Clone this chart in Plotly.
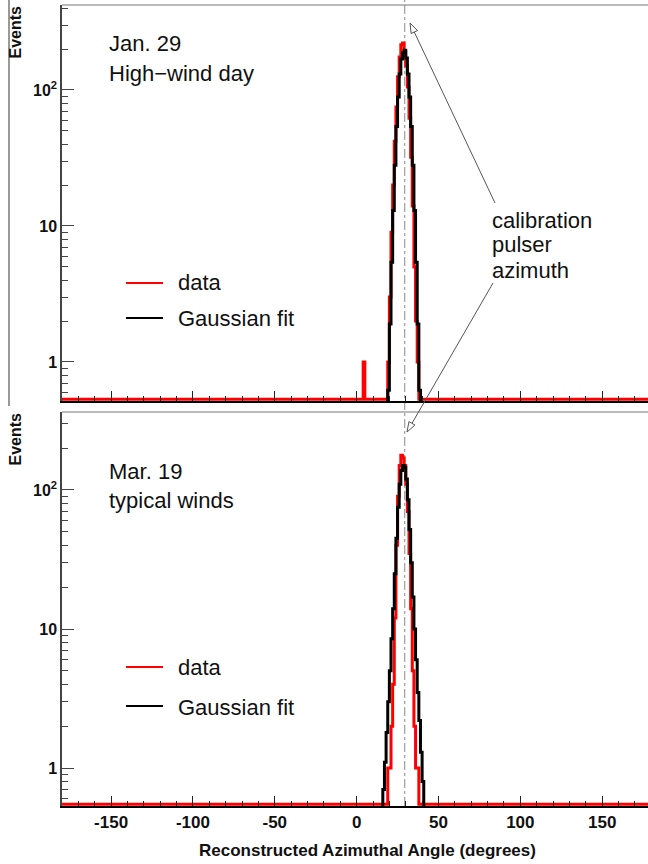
import math
import plotly.graph_objects as go
from plotly.subplots import make_subplots

# ---------------- data ----------------
pulser_azimuth = 29.4

# Top panel (Jan. 29, high-wind day): 1-degree bins, keyed by bin left edge
top_data_edges = [4, 18, 19, 20, 21, 22, 23, 24, 25, 26, 27, 28, 29, 30, 31, 32, 33, 34, 35, 36, 37, 38]
top_data_counts = [1, 0, 1, 3, 9, 20, 42, 75, 125, 175, 215, 222, 190, 150, 105, 62, 32, 14, 5, 2, 1, 0]

top_fit_edges = [18, 19, 20, 21, 22, 23, 24, 25, 26, 27, 28, 29, 30, 31, 32, 33, 34, 35, 36, 37, 38, 39]
top_fit_vals = [0.17, 0.62, 1.9, 5.4, 13, 28, 54, 89, 131, 169, 188, 196, 172, 131, 89, 54, 28, 13, 5.4, 1.9, 0.62, 0.17]

# Bottom panel (Mar. 19, typical winds)
bot_data_edges = [17, 18, 19, 20, 21, 22, 23, 24, 25, 26, 27, 28, 29, 30, 31, 32, 33, 34, 35, 36, 37, 38]
bot_data_counts = [0, 0, 1, 1, 2, 4, 12, 40, 90, 150, 178, 170, 150, 110, 70, 35, 14, 5, 2, 1, 1, 0]

bot_fit_edges = [15, 16, 17, 18, 19, 20, 21, 22, 23, 24, 25, 26, 27, 28, 29, 30, 31, 32, 33, 34, 35, 36, 37, 38, 39, 40, 41, 42]
bot_fit_vals = [0.4, 0.7, 1.1, 1.8, 3, 5, 8.5, 14, 25, 45, 75, 110, 138, 150, 146, 120, 85, 52, 30, 17, 10, 6, 3.5, 2.2, 1.3, 0.8, 0.5, 0.3]

x_ticks = [-150, -100, -50, 0, 50, 100, 150]
y_ticks = [1, 10, 100]
y_ticktext = ["<b>1</b>", "<b>10</b>", "<b>10<sup>2</sup></b>"]
y_minor = [0.6, 0.7, 0.8, 0.9, 2, 3, 4, 5, 6, 7, 8, 9, 20, 30, 40, 50, 60, 70, 80, 90, 200, 300, 400]

top_labels = ["Jan. 29", "High\u2212wind day"]
bot_labels = ["Mar. 19", "typical winds"]
legend_labels = ["data", "Gaussian fit"]
callout_lines = ["calibration", "pulser", "azimuth"]

# ---------------- geometry helpers ----------------
W, H = 648, 864
L, R, T, B = 62, 0, 5, 58
PW = W - L - R
PH = H - T - B
def px(x):
    return (x - L) / PW
def py(y):
    return (H - B - y) / PH

top_dom = [py(401), py(5)]
bot_dom = [py(806), py(412)]
top_range = [-0.287, 2.625]
bot_range = [-0.273, 2.561]
x_range = [-180, 178]

RED = "#ff0000"
BLACK = "#000000"
FONT = "Liberation Sans, Arial, Helvetica, sans-serif"


def hist_full(edges, counts, floor):
    cmap = dict(zip(edges, counts))
    xs, ys = [], []
    for e in range(-180, 180):
        v = cmap.get(e, 0)
        xs.append(e)
        ys.append(max(v, floor))
    xs.append(180)
    ys.append(ys[-1])
    return xs, ys


def step(edges, vals):
    xs = list(edges) + [edges[-1] + 1]
    ys = list(vals) + [vals[-1]]
    return xs, ys


fig = make_subplots(rows=2, cols=1, shared_xaxes=False, vertical_spacing=0.0)

top_floor = 10 ** (top_range[0] + 0.012)
bot_floor = 10 ** (bot_range[0] + 0.012)

for row, (de, dc, fe, fv, floor) in enumerate([
        (top_data_edges, top_data_counts, top_fit_edges, top_fit_vals, top_floor),
        (bot_data_edges, bot_data_counts, bot_fit_edges, bot_fit_vals, bot_floor)], start=1):
    hx, hy = hist_full(de, dc, floor)
    fig.add_trace(go.Scatter(x=hx, y=hy, mode="lines", line=dict(color=RED, width=3, shape="hv"),
                             showlegend=False, hoverinfo="skip"), row=row, col=1)
    sx, sy = step(fe, fv)
    fig.add_trace(go.Scatter(x=sx, y=sy, mode="lines", line=dict(color=BLACK, width=3, shape="hv"),
                             showlegend=False, hoverinfo="skip"), row=row, col=1)

xaxis_common = dict(range=x_range, tickmode="array", tickvals=x_ticks, ticks="inside", ticklen=10,
                    tickwidth=1, tickcolor="#222", showline=True, linecolor=BLACK, linewidth=2,
                    showgrid=False, zeroline=False,
                    minor=dict(dtick=10, tick0=0, ticks="inside", ticklen=5, tickcolor="#222", showgrid=False))
fig.update_xaxes(**xaxis_common)
fig.update_xaxes(showticklabels=False, row=1, col=1)
fig.update_xaxes(ticktext=["<b>%d</b>" % v for v in x_ticks], showticklabels=True,
                 tickfont=dict(family=FONT, size=17, color="#111"), row=2, col=1)

yaxis_common = dict(type="log", tickmode="array", tickvals=y_ticks, ticktext=y_ticktext,
                    ticks="inside", ticklen=12, tickwidth=1, tickcolor="#444",
                    showline=True, linecolor="#444", linewidth=1.5, showgrid=False, zeroline=False,
                    tickfont=dict(family=FONT, size=16, color="#111"),
                    minor=dict(tickmode="array", tickvals=y_minor, ticks="inside", ticklen=6,
                               tickcolor="#444", showgrid=False))
fig.update_yaxes(**yaxis_common)
fig.update_yaxes(range=top_range, domain=top_dom, row=1, col=1)
fig.update_yaxes(range=bot_range, domain=bot_dom, row=2, col=1)

shapes = []
# top frame lines of each panel
for ytop in (py(5), py(412)):
    shapes.append(dict(type="line", xref="paper", yref="paper", x0=0, x1=1.01, y0=ytop, y1=ytop,
                       line=dict(color="#777", width=1)))
# outer pad frame line at left of top panel
shapes.append(dict(type="line", xref="paper", yref="paper", x0=px(9), x1=px(9), y0=py(406), y1=py(0),
                   line=dict(color="#555", width=1.2)))
# calibration pulser azimuth (dash-dot)
shapes.append(dict(type="line", xref="x", yref="paper", x0=pulser_azimuth, x1=pulser_azimuth,
                   y0=0, y1=py(0), line=dict(color="#8a8a8a", width=1, dash="dashdot"), layer="below"))
# legend samples
for (yr, yb) in ((283, 318), (667, 706)):
    shapes.append(dict(type="line", xref="paper", yref="paper", x0=px(126), x1=px(163), y0=py(yr), y1=py(yr),
                       line=dict(color=RED, width=2)))
    shapes.append(dict(type="line", xref="paper", yref="paper", x0=px(126), x1=px(163), y0=py(yb), y1=py(yb),
                       line=dict(color=BLACK, width=2)))

# arrows to the pulser azimuth: line + open triangular head (pixel geometry)
for (hx_, hy_, tx_, ty_) in ((410, 23, 495, 203), (407, 432, 493, 283)):
    dx, dy = hx_ - tx_, hy_ - ty_
    n = math.hypot(dx, dy)
    ux, uy = dx / n, dy / n
    pxv, pyv = -uy, ux
    hl, hw = 10, 3.5
    bx, by = hx_ - hl * ux, hy_ - hl * uy
    shapes.append(dict(type="line", xref="paper", yref="paper", x0=px(tx_), y0=py(ty_), x1=px(bx), y1=py(by),
                       line=dict(color="#555", width=1)))
    p1 = (bx + hw * pxv, by + hw * pyv)
    p2 = (bx - hw * pxv, by - hw * pyv)
    path = "M %.5f %.5f L %.5f %.5f L %.5f %.5f Z" % (px(hx_), py(hy_), px(p1[0]), py(p1[1]), px(p2[0]), py(p2[1]))
    shapes.append(dict(type="path", xref="paper", yref="paper", path=path,
                       line=dict(color="#555", width=1), fillcolor="white"))
fig.update_layout(shapes=shapes)

ann = []
def text(t, x, y, size=22, bold=False, angle=0, xanchor="left", yanchor="middle"):
    ann.append(dict(text=("<b>%s</b>" % t) if bold else t, xref="paper", yref="paper", x=px(x), y=py(y),
                    showarrow=False, xanchor=xanchor, yanchor=yanchor, textangle=angle,
                    font=dict(family=FONT, size=size, color="#111")))

text(top_labels[0], 107, 43)
text(top_labels[1], 107, 74)
text(bot_labels[0], 107, 471)
text(bot_labels[1], 107, 501)
text(legend_labels[0], 176, 283)
text(legend_labels[1], 176, 319)
text(legend_labels[0], 176, 667)
text(legend_labels[1], 176, 707)
for i, t in enumerate(callout_lines):
    text(t, 490, 220 + 25 * i)
# axis titles
text("Events", 15, 4, size=16, bold=True, angle=-90, xanchor="center", yanchor="top")
text("Events", 15, 411, size=16, bold=True, angle=-90, xanchor="center", yanchor="top")
text("Reconstructed Azimuthal Angle (degrees)", 367, 851, size=17, bold=True, xanchor="center")

fig.update_layout(annotations=ann)

fig.update_layout(width=W, height=H, margin=dict(l=L, r=R, t=T, b=B),
                  paper_bgcolor="white", plot_bgcolor="white", showlegend=False)

fig.write_html("out.html")
